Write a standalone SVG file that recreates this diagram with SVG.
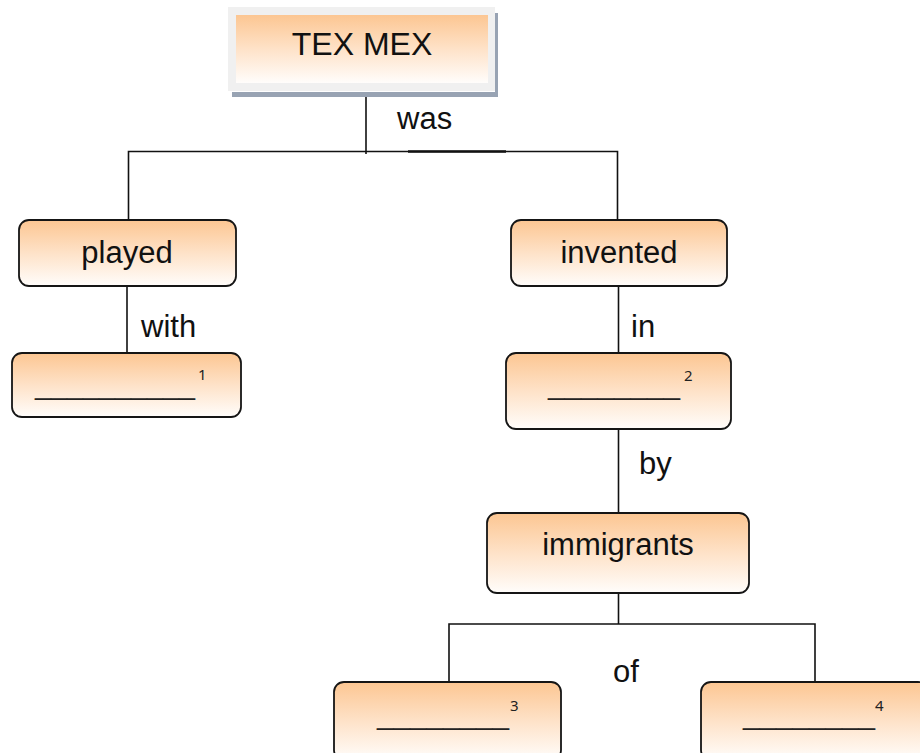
<svg xmlns="http://www.w3.org/2000/svg" width="920" height="753" viewBox="0 0 920 753">
<defs>
<linearGradient id="g" x1="0" y1="0" x2="0" y2="1">
<stop offset="0" stop-color="#FCC692"/>
<stop offset="0.5" stop-color="#FEE2C8"/>
<stop offset="1" stop-color="#FFFDFB"/>
</linearGradient>
<style>
.box{fill:url(#g);stroke:#151515;stroke-width:1.8}
.lbl{font-family:"Liberation Sans",Arial,sans-serif;font-size:31px;fill:#111}
.ctr{text-anchor:middle}
.blank{font-family:"Liberation Sans",Arial,sans-serif;font-size:28px;fill:#222}
.sup{font-family:"Noto Sans","Liberation Sans",sans-serif;font-size:15px;fill:#222}
.con{stroke:#111;stroke-width:1.6;fill:none}
</style>
</defs>
<rect width="920" height="753" fill="#fff"/>
<g id="connectors">
<line class="con" x1="366" y1="97" x2="366" y2="154"/>
<polyline class="con" points="128.5,221 128.5,151.5 617.5,151.5 617.5,221"/>
<line x1="408" y1="151.5" x2="506" y2="151.5" stroke="#111" stroke-width="2.6"/>
<line class="con" x1="127" y1="286" x2="127" y2="353"/>
<line class="con" x1="618.5" y1="286" x2="618.5" y2="353"/>
<line class="con" x1="618.5" y1="429" x2="618.5" y2="513"/>
<line class="con" x1="618.5" y1="593" x2="618.5" y2="624"/>
<polyline class="con" points="449,682 449,624 815,624 815,682"/>
<text class="lbl" x="397" y="129">was</text>
<text class="lbl" x="141" y="337">with</text>
<text class="lbl" x="631" y="337">in</text>
<text class="lbl" x="639" y="474">by</text>
<text class="lbl" x="613" y="682">of</text>
</g>
<g id="texmex">
<rect x="232" y="13" width="266" height="84" fill="#98A3B3"/>
<rect x="228" y="7" width="267" height="84" fill="#F0F0F0"/>
<line x1="232" y1="91.5" x2="495" y2="91.5" stroke="#fff" stroke-width="1"/>
<rect x="236" y="15" width="252" height="68" fill="url(#g)"/>
<text class="lbl ctr" x="362" y="55" style="font-size:32px">TEX MEX</text>
</g>
<g id="played">
<rect class="box" x="19" y="220" width="217" height="66" rx="10"/>
<text class="lbl ctr" x="127" y="263">played</text>
</g>
<g id="blank1">
<rect class="box" x="12" y="353" width="229" height="64" rx="10"/>
<text class="blank" x="35" y="393.5" textLength="160" lengthAdjust="spacingAndGlyphs">__________</text>
<text class="sup" x="198" y="380">1</text>
</g>
<g id="invented">
<rect class="box" x="511" y="220" width="216" height="66" rx="10"/>
<text class="lbl ctr" x="619" y="263">invented</text>
</g>
<g id="blank2">
<rect class="box" x="506" y="353" width="225" height="76" rx="10"/>
<text class="blank" x="548" y="393.5" textLength="132" lengthAdjust="spacingAndGlyphs">________</text>
<text class="sup" x="684" y="381">2</text>
</g>
<g id="immigrants">
<rect class="box" x="487" y="513" width="262" height="80" rx="10"/>
<text class="lbl ctr" x="618" y="555">immigrants</text>
</g>
<g id="blank3">
<rect class="box" x="334" y="682" width="227" height="78" rx="10"/>
<text class="blank" x="377" y="723.5" textLength="132" lengthAdjust="spacingAndGlyphs">________</text>
<text class="sup" x="510" y="711">3</text>
</g>
<g id="blank4">
<rect class="box" x="701" y="682" width="227" height="78" rx="10"/>
<text class="blank" x="743" y="723.5" textLength="132" lengthAdjust="spacingAndGlyphs">________</text>
<text class="sup" x="875" y="711">4</text>
</g>
</svg>
